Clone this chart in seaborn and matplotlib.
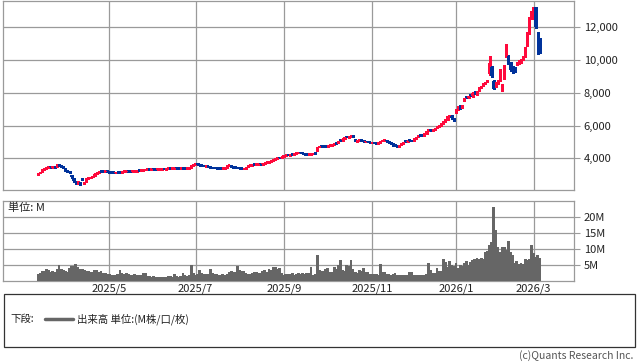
import numpy as np
import pandas as pd
import matplotlib
matplotlib.use("Agg")
import matplotlib.pyplot as plt
from matplotlib.patches import Rectangle
from matplotlib.lines import Line2D
import seaborn as sns

# ---------------- data ----------------
START_DATE = "2025-03-12"
JP_HOLIDAYS = ["2025-03-20", "2025-04-29", "2025-05-05", "2025-05-06", "2025-07-21",
               "2025-08-11", "2025-09-15", "2025-09-23", "2025-10-13", "2025-11-03",
               "2025-11-24", "2025-12-31", "2026-01-01", "2026-01-02", "2026-01-12",
               "2026-02-11", "2026-02-23"]

price_open = [
    3020, 3100, 3160, 3300, 3390, 3420, 3470, 3430, 3470, 3450,
    3620, 3560, 3520, 3420, 3260, 3200, 2980, 2800, 2600, 2460,
    2560, 2800, 2480, 2570, 2760, 2800, 2860, 2930, 3060, 3120,
    3250, 3210, 3180, 3240, 3210, 3160, 3140, 3100, 3180, 3160,
    3120, 3180, 3190, 3230, 3210, 3180, 3190, 3200, 3270, 3240,
    3260, 3280, 3290, 3340, 3300, 3350, 3340, 3310, 3320, 3330,
    3360, 3330, 3350, 3380, 3350, 3370, 3400, 3390, 3370, 3400,
    3390, 3360, 3380, 3420, 3540, 3600, 3660, 3630, 3590, 3570,
    3510, 3530, 3490, 3440, 3420, 3410, 3400, 3390, 3360, 3380,
    3420, 3540, 3560, 3490, 3460, 3440, 3410, 3380, 3340, 3390,
    3470, 3540, 3580, 3640, 3600, 3620, 3660, 3640, 3700, 3720,
    3750, 3790, 3880, 3910, 3970, 4030, 4020, 4110, 4150, 4220,
    4190, 4250, 4240, 4300, 4320, 4360, 4330, 4280, 4250, 4210,
    4240, 4260, 4310, 4450, 4680, 4780, 4740, 4730, 4710, 4770,
    4790, 4860, 4940, 4930, 5130, 5090, 5200, 5320, 5280, 5340,
    5390, 5150, 5040, 5070, 5110, 5070, 4990, 5060, 5000, 4930,
    4970, 4940, 4890, 4960, 5050, 5070, 5110, 5050, 4960, 4890,
    4830, 4800, 4730, 4820, 4910, 5030, 4990, 5100, 5080, 5050,
    5190, 5310, 5420, 5410, 5380, 5520, 5670, 5750, 5690, 5760,
    5860, 5940, 6010, 6110, 6260, 6380, 6560, 6600, 6440, 6800,
    6980, 7200, 7100, 7500, 7780, 7700, 7850, 7780, 8050, 7900,
    8120, 8280, 8420, 8530, 8680, 9150, 9550, 8700, 8400, 8550,
    8750, 8150, 8900, 10250, 10250, 9850, 9600, 9500, 9750, 9800,
    9850, 10050, 10250, 10900, 11650, 12550, 12950, 13230, 11650, 11250,
]
price_high = [
    3100, 3170, 3320, 3400, 3440, 3470, 3480, 3480, 3480, 3640,
    3640, 3580, 3540, 3430, 3280, 3220, 3000, 2820, 2620, 2590,
    2580, 2820, 2580, 2780, 2810, 2880, 2940, 3080, 3140, 3180,
    3270, 3230, 3240, 3260, 3230, 3180, 3160, 3180, 3200, 3180,
    3210, 3220, 3240, 3250, 3230, 3220, 3230, 3250, 3290, 3290,
    3300, 3320, 3340, 3360, 3360, 3370, 3360, 3350, 3360, 3370,
    3380, 3380, 3390, 3400, 3400, 3410, 3420, 3410, 3410, 3420,
    3410, 3410, 3420, 3570, 3620, 3680, 3690, 3650, 3610, 3590,
    3560, 3550, 3510, 3460, 3440, 3430, 3420, 3410, 3410, 3420,
    3570, 3600, 3580, 3510, 3480, 3460, 3430, 3400, 3400, 3480,
    3570, 3620, 3640, 3660, 3660, 3670, 3680, 3720, 3750, 3780,
    3800, 3880, 3920, 4000, 4020, 4050, 4120, 4180, 4200, 4240,
    4240, 4270, 4310, 4350, 4370, 4380, 4350, 4300, 4270, 4270,
    4290, 4320, 4330, 4720, 4780, 4800, 4760, 4750, 4780, 4820,
    4870, 4910, 4960, 5070, 5150, 5220, 5300, 5340, 5370, 5420,
    5410, 5170, 5100, 5120, 5130, 5090, 5070, 5080, 5020, 4980,
    4990, 4960, 4970, 5070, 5100, 5120, 5130, 5070, 4980, 4910,
    4850, 4820, 4820, 4920, 4970, 5050, 5100, 5120, 5100, 5220,
    5320, 5370, 5440, 5430, 5520, 5670, 5720, 5770, 5770, 5870,
    5970, 6030, 6130, 6270, 6380, 6580, 6650, 6620, 6470, 6980,
    7180, 7230, 7230, 7680, 7800, 7760, 7880, 8030, 8080, 8130,
    8330, 8430, 8580, 8680, 8800, 10250, 9600, 8750, 8650, 8750,
    9450, 8500, 9700, 10970, 10300, 9900, 9650, 9550, 9900, 10000,
    10050, 10250, 10800, 11700, 12600, 13000, 13250, 13250, 11700, 11350,
]
price_low = [
    3000, 3080, 3150, 3280, 3370, 3400, 3420, 3410, 3420, 3440,
    3540, 3480, 3420, 3230, 3150, 3120, 2820, 2560, 2440, 2440,
    2400, 2700, 2460, 2550, 2740, 2780, 2840, 2910, 3040, 3100,
    3180, 3170, 3160, 3190, 3130, 3100, 3090, 3080, 3130, 3110,
    3100, 3160, 3170, 3180, 3170, 3160, 3170, 3180, 3230, 3220,
    3240, 3260, 3270, 3290, 3280, 3310, 3300, 3290, 3300, 3310,
    3320, 3310, 3330, 3330, 3330, 3350, 3360, 3350, 3350, 3360,
    3350, 3340, 3360, 3400, 3520, 3580, 3600, 3560, 3540, 3510,
    3490, 3460, 3410, 3390, 3380, 3370, 3360, 3350, 3340, 3360,
    3400, 3520, 3450, 3430, 3410, 3380, 3340, 3320, 3320, 3370,
    3450, 3520, 3560, 3590, 3580, 3600, 3610, 3620, 3680, 3700,
    3730, 3770, 3860, 3890, 3950, 3990, 4000, 4090, 4130, 4180,
    4170, 4210, 4220, 4280, 4300, 4300, 4270, 4220, 4200, 4190,
    4220, 4240, 4260, 4430, 4660, 4710, 4700, 4680, 4690, 4750,
    4770, 4840, 4900, 4910, 5080, 5070, 5180, 5280, 5260, 5320,
    5310, 5040, 5020, 5050, 5040, 4980, 4970, 4970, 4930, 4910,
    4910, 4880, 4870, 4940, 5030, 5050, 5020, 4930, 4860, 4780,
    4760, 4700, 4710, 4800, 4890, 4980, 4970, 5040, 5030, 5030,
    5170, 5290, 5380, 5360, 5360, 5500, 5650, 5660, 5670, 5740,
    5840, 5920, 5990, 6090, 6240, 6360, 6540, 6420, 6280, 6780,
    6950, 7020, 7080, 7480, 7680, 7670, 7770, 7760, 7930, 7880,
    8100, 8260, 8400, 8510, 8650, 9100, 8950, 8200, 8350, 8500,
    8700, 8100, 8850, 10200, 9750, 9350, 9200, 9250, 9700, 9750,
    9800, 10000, 10200, 10850, 11600, 12500, 12900, 11950, 10350, 10450,
]
price_close = [
    3080, 3150, 3300, 3380, 3420, 3450, 3440, 3460, 3440, 3600,
    3560, 3500, 3450, 3250, 3180, 3150, 2850, 2600, 2480, 2560,
    2430, 2720, 2560, 2760, 2790, 2860, 2920, 3060, 3120, 3160,
    3200, 3190, 3220, 3200, 3150, 3120, 3110, 3160, 3150, 3130,
    3190, 3200, 3220, 3200, 3190, 3200, 3210, 3230, 3250, 3270,
    3280, 3300, 3320, 3310, 3340, 3330, 3320, 3330, 3340, 3350,
    3340, 3360, 3370, 3350, 3380, 3390, 3380, 3370, 3390, 3380,
    3370, 3390, 3400, 3550, 3600, 3650, 3620, 3580, 3560, 3530,
    3540, 3480, 3430, 3410, 3400, 3390, 3380, 3370, 3390, 3400,
    3550, 3580, 3470, 3450, 3430, 3400, 3360, 3350, 3380, 3460,
    3550, 3600, 3620, 3610, 3640, 3650, 3630, 3700, 3730, 3760,
    3780, 3860, 3900, 3980, 4000, 4010, 4100, 4160, 4180, 4200,
    4220, 4230, 4290, 4330, 4350, 4320, 4290, 4240, 4220, 4250,
    4270, 4300, 4280, 4700, 4750, 4730, 4720, 4700, 4760, 4800,
    4850, 4890, 4920, 5050, 5100, 5200, 5280, 5300, 5350, 5380,
    5330, 5060, 5080, 5100, 5060, 5000, 5050, 4990, 4950, 4960,
    4930, 4900, 4950, 5050, 5080, 5100, 5040, 4950, 4880, 4800,
    4780, 4720, 4800, 4900, 4950, 5000, 5080, 5060, 5050, 5200,
    5300, 5350, 5400, 5380, 5500, 5650, 5700, 5680, 5750, 5850,
    5950, 6000, 6100, 6250, 6350, 6550, 6600, 6450, 6300, 6950,
    7150, 7050, 7200, 7650, 7700, 7750, 7800, 8000, 7950, 8100,
    8300, 8400, 8550, 8650, 8700, 9800, 9000, 8250, 8600, 8700,
    9300, 8450, 9600, 10700, 9800, 9400, 9250, 9300, 9850, 9950,
    10000, 10200, 10750, 11600, 12500, 12950, 13200, 12000, 10700, 10750,
]
volume_m = [
    2.3, 2.6, 3.1, 3.0, 3.6, 3.3, 2.9, 3.2, 2.8, 3.9,
    5.0, 3.6, 3.4, 3.2, 2.8, 4.2, 4.6, 4.7, 5.3, 4.5,
    3.9, 3.6, 3.4, 3.2, 3.0, 2.9, 2.8, 3.4, 3.3, 2.9,
    3.0, 2.6, 2.5, 2.2, 2.2, 1.8, 1.9, 2.0, 2.2, 3.4,
    2.6, 2.3, 2.4, 2.1, 2.0, 1.9, 2.1, 1.8, 2.0, 1.9,
    2.4, 2.5, 1.6, 1.5, 1.4, 1.5, 1.3, 1.4, 1.3, 1.2,
    1.4, 1.3, 1.5, 1.6, 1.4, 2.3, 1.5, 1.4, 1.5, 2.4,
    1.8, 1.7, 1.9, 5.0, 2.6, 2.0, 2.1, 3.4, 2.5, 2.3,
    2.2, 2.2, 3.9, 2.6, 2.3, 2.2, 2.0, 1.8, 2.1, 2.0,
    2.2, 2.9, 3.0, 2.8, 2.7, 4.7, 3.5, 3.2, 3.0, 2.5,
    2.3, 2.2, 2.6, 2.9, 2.8, 2.6, 2.4, 3.0, 3.4, 2.8,
    3.6, 3.4, 4.5, 4.4, 3.8, 4.0, 2.4, 2.0, 2.2, 2.3,
    2.2, 2.4, 2.0, 2.3, 2.6, 2.2, 2.4, 2.3, 2.6, 2.5,
    4.5, 1.9, 2.1, 8.1, 3.4, 3.0, 3.2, 3.6, 4.0, 2.9,
    2.8, 4.5, 3.8, 5.0, 6.6, 3.4, 3.2, 5.0, 4.6, 6.6,
    3.8, 2.9, 2.6, 3.4, 3.2, 4.0, 2.8, 2.9, 2.2, 2.3,
    2.1, 2.2, 2.0, 5.2, 2.9, 2.7, 2.3, 2.2, 2.0, 2.2,
    2.6, 1.9, 2.0, 1.9, 1.8, 1.9, 2.0, 2.9, 2.8, 1.9,
    2.0, 1.9, 1.8, 2.0, 1.9, 2.3, 5.5, 3.4, 2.4, 2.6,
    4.0, 3.1, 3.2, 6.8, 6.0, 4.4, 6.2, 5.0, 4.7, 5.5,
    4.0, 4.9, 4.7, 5.5, 6.2, 5.0, 5.9, 6.6, 6.8, 7.1,
    6.8, 7.1, 6.8, 9.0, 9.5, 11.2, 12.3, 23.0, 15.9, 10.7,
    9.2, 10.7, 10.7, 9.7, 12.6, 9.2, 8.1, 5.5, 6.2, 5.2,
    5.5, 5.2, 6.8, 6.5, 6.8, 11.2, 8.6, 7.6, 8.0, 7.1,
]
price_ticks = [4000, 6000, 8000, 10000, 12000]
volume_ticks = [5, 10, 15, 20]
volume_tick_labels = ["5M", "10M", "15M", "20M"]

# ---------------- style ----------------
sns.set_style("white")
plt.rcParams["font.family"] = ["Noto Sans CJK JP", "DejaVu Sans"]

UP = "#ff0a3c"
DOWN = "#00329b"
GRID = "#9a9a9a"
TXT = "#222222"

W, H = 638, 362
fig = plt.figure(figsize=(W / 100, H / 100), dpi=100)


def rect(l, t, r, b):
    return [l / W, 1 - b / H, (r - l) / W, (b - t) / H]


dates = pd.bdate_range(START_DATE, periods=len(price_close), freq="C", holidays=JP_HOLIDAYS)
df = pd.DataFrame({"date": dates, "open": price_open, "high": price_high,
                   "low": price_low, "close": price_close, "volume": volume_m})
df["idx"] = np.arange(len(df))

# month ticks: first trading day of each odd month
tick_pos, tick_lab = [], []
for (y, m), g in df.groupby([df.date.dt.year, df.date.dt.month]):
    if m % 2 == 1 and g.date.iloc[0].day <= 7:
        tick_pos.append(int(g.idx.iloc[0]))
        tick_lab.append(f"{y}/{m}")

XLIM = (-16.7, 255.2)

# ---------------- price panel ----------------
ax1 = fig.add_axes(rect(3, 0.5, 574, 190.3))
up = df.close >= df.open
colors = np.where(up, UP, DOWN)
body_lo = np.minimum(df.open, df.close)
body_h = np.maximum(np.abs(df.close - df.open), 90)
ax1.vlines(df.idx, df.low, df.high, colors=colors, linewidth=1.0, antialiased=False, zorder=3)
ax1.bar(df.idx, body_h, bottom=body_lo, width=1.25, color=colors, linewidth=0,
        antialiased=False, zorder=4)
ax1.set_xlim(*XLIM)
ax1.set_ylim(2050, 13620)
ax1.set_yticks(price_ticks)
ax1.set_yticklabels([f"{v:,}" for v in price_ticks])
ax1.set_xticks(tick_pos)
ax1.set_xticklabels([])
ax1.yaxis.tick_right()
ax1.tick_params(axis="y", length=4, width=0.8, color=GRID, pad=3, labelsize=8, labelcolor=TXT)
ax1.tick_params(axis="x", length=0)
ax1.grid(True, color=GRID, linewidth=0.9)
ax1.set_axisbelow(True)
for s in ax1.spines.values():
    s.set_color(GRID)
    s.set_linewidth(0.9)

# ---------------- volume panel ----------------
ax2 = fig.add_axes(rect(3, 201, 574, 281))
sns.barplot(data=df, x="idx", y="volume", native_scale=True, color="#666666",
            saturation=1, width=1.35, linewidth=0, errorbar=None, ax=ax2, zorder=3)
for p in ax2.patches:
    p.set_antialiased(False)
ax2.set_xlim(*XLIM)
ax2.set_ylim(0, 25)
ax2.set_yticks(volume_ticks)
ax2.set_yticklabels(volume_tick_labels)
ax2.set_xticks(tick_pos)
ax2.set_xticklabels(tick_lab)
ax2.set_xlabel("")
ax2.set_ylabel("")
ax2.yaxis.tick_right()
ax2.tick_params(axis="y", length=4, width=0.8, color=GRID, pad=3, labelsize=8, labelcolor=TXT)
ax2.tick_params(axis="x", length=0, pad=2, labelsize=8, labelcolor=TXT)
ax2.grid(True, color=GRID, linewidth=0.9)
ax2.set_axisbelow(True)
for s in ax2.spines.values():
    s.set_color(GRID)
    s.set_linewidth(0.9)
ax2.text(5 / 571, 1 - 7 / 80, "単位: M", transform=ax2.transAxes, ha="left", va="center",
         fontsize=8, color=TXT)

# ---------------- legend box ----------------
fig.patches.append(Rectangle((3.5 / W, 1 - 347 / H), 631 / W, 53 / H, transform=fig.transFigure,
                             fill=False, edgecolor="#333333", linewidth=0.9))
ly = 1 - 319 / H
fig.text(10 / W, ly, "下段:", ha="left", va="center", fontsize=7.5, color=TXT)
fig.add_artist(Line2D([45 / W, 73 / W], [ly, ly], transform=fig.transFigure,
                      color="#666666", linewidth=2.5))
fig.text(77 / W, ly, "出来高 単位:(M株/口/枚)", ha="left", va="center", fontsize=7.5, color=TXT)
fig.text(633 / W, 1 - 356 / H, "(c)Quants Research Inc.", ha="right", va="center",
         fontsize=7.5, color="#555555")

fig.savefig("out.png", dpi=100)
